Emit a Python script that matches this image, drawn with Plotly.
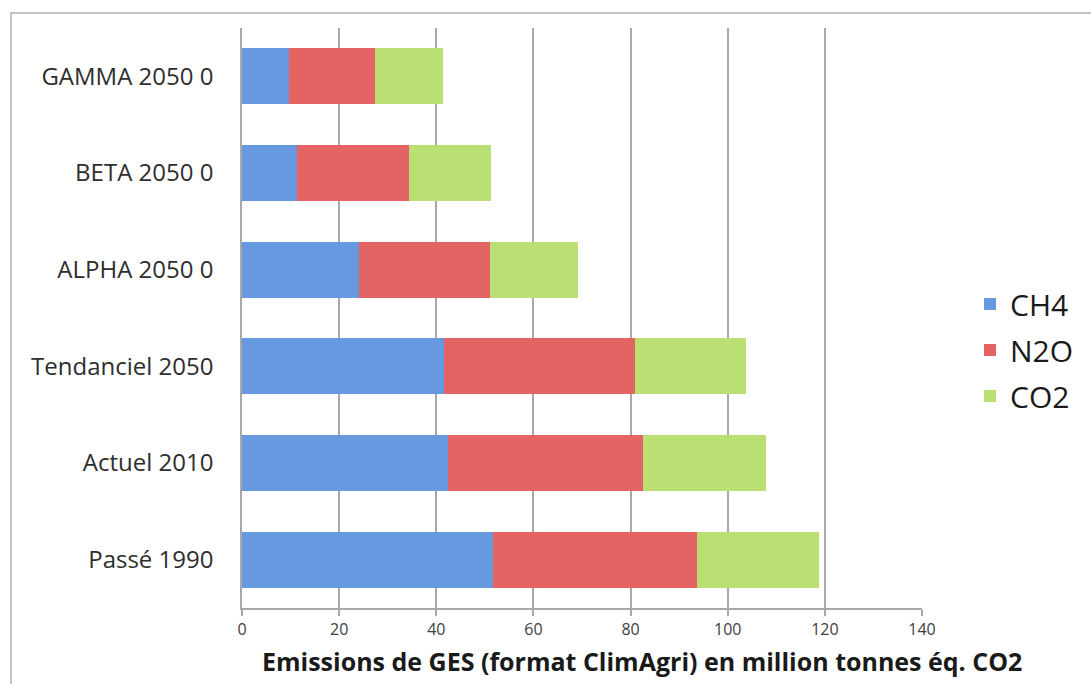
import plotly.graph_objects as go

categories = ["Passé 1990", "Actuel 2010", "Tendanciel 2050",
              "ALPHA 2050 0", "BETA 2050 0", "GAMMA 2050 0"]
ch4 = [51.7, 42.4, 41.6, 24.1, 11.3, 9.7]
n2o = [42.0, 40.2, 39.3, 27.0, 23.1, 17.7]
co2 = [25.1, 25.3, 22.9, 18.1, 16.9, 14.0]
series_names = ["CH4", "N2O", "CO2"]
x_ticks = [0, 20, 40, 60, 80, 100, 120, 140]

colors = ["#6699e0", "#e46464", "#badf73"]
W, H = 1091, 684
L, R, T, B = 242, 922, 28, 608

fig = go.Figure()
for name, vals, col in zip(series_names, [ch4, n2o, co2], colors):
    fig.add_trace(go.Bar(
        y=categories, x=vals, name=name, orientation="h",
        marker=dict(color=col, line=dict(width=0)),
        legendgroup=name,
    ))

def px_x(px):
    return (px - L) / (R - L)

def px_y(py):
    return (B - py) / (B - T)

fig.update_layout(
    width=W, height=H,
    margin=dict(l=L, r=W - R, t=T, b=H - B, pad=0),
    barmode="stack", bargap=0.42,
    plot_bgcolor="white", paper_bgcolor="white",
    font=dict(family="Open Sans", color="#333333"),
    showlegend=True,
    legend=dict(
        x=px_x(970), xanchor="left", y=px_y(350), yanchor="middle",
        traceorder="grouped", tracegroupgap=4,
        font=dict(size=30, color="#1a1a1a"),
        bgcolor="rgba(0,0,0,0)", itemwidth=30,
    ),
    xaxis=dict(
        range=[0, 140], tickvals=x_ticks, ticktext=[str(v) for v in x_ticks],
        showgrid=True, gridcolor="#a8a8a8", gridwidth=1.5,
        showline=True, linecolor="#a8a8a8", linewidth=1.5,
        ticks="outside", ticklen=6, tickcolor="#a8a8a8", tickwidth=1.5,
        tickfont=dict(size=16, color="#404040"),
        zeroline=False, fixedrange=True,
    ),
    yaxis=dict(
        type="category", categoryorder="array", categoryarray=categories,
        showline=True, linecolor="#a8a8a8", linewidth=1.5,
        showgrid=False, ticks="", ticklabelstandoff=22,
        tickfont=dict(size=24, color="#2e2e2e"),
        fixedrange=True,
    ),
    shapes=[dict(
        type="rect", xref="paper", yref="paper",
        x0=px_x(11), x1=px_x(1120), y0=px_y(720), y1=px_y(13),
        line=dict(color="#c4c4c4", width=2), fillcolor="rgba(0,0,0,0)",
        layer="below",
    )],
    annotations=[dict(
        text="<b>Emissions de GES (format ClimAgri) en million tonnes éq. CO2</b>",
        xref="paper", yref="paper", x=px_x(642), y=px_y(661),
        xanchor="center", yanchor="middle", showarrow=False,
        font=dict(size=25, color="#1a1a1a"),
    )],
)

fig.write_html("out.html")
